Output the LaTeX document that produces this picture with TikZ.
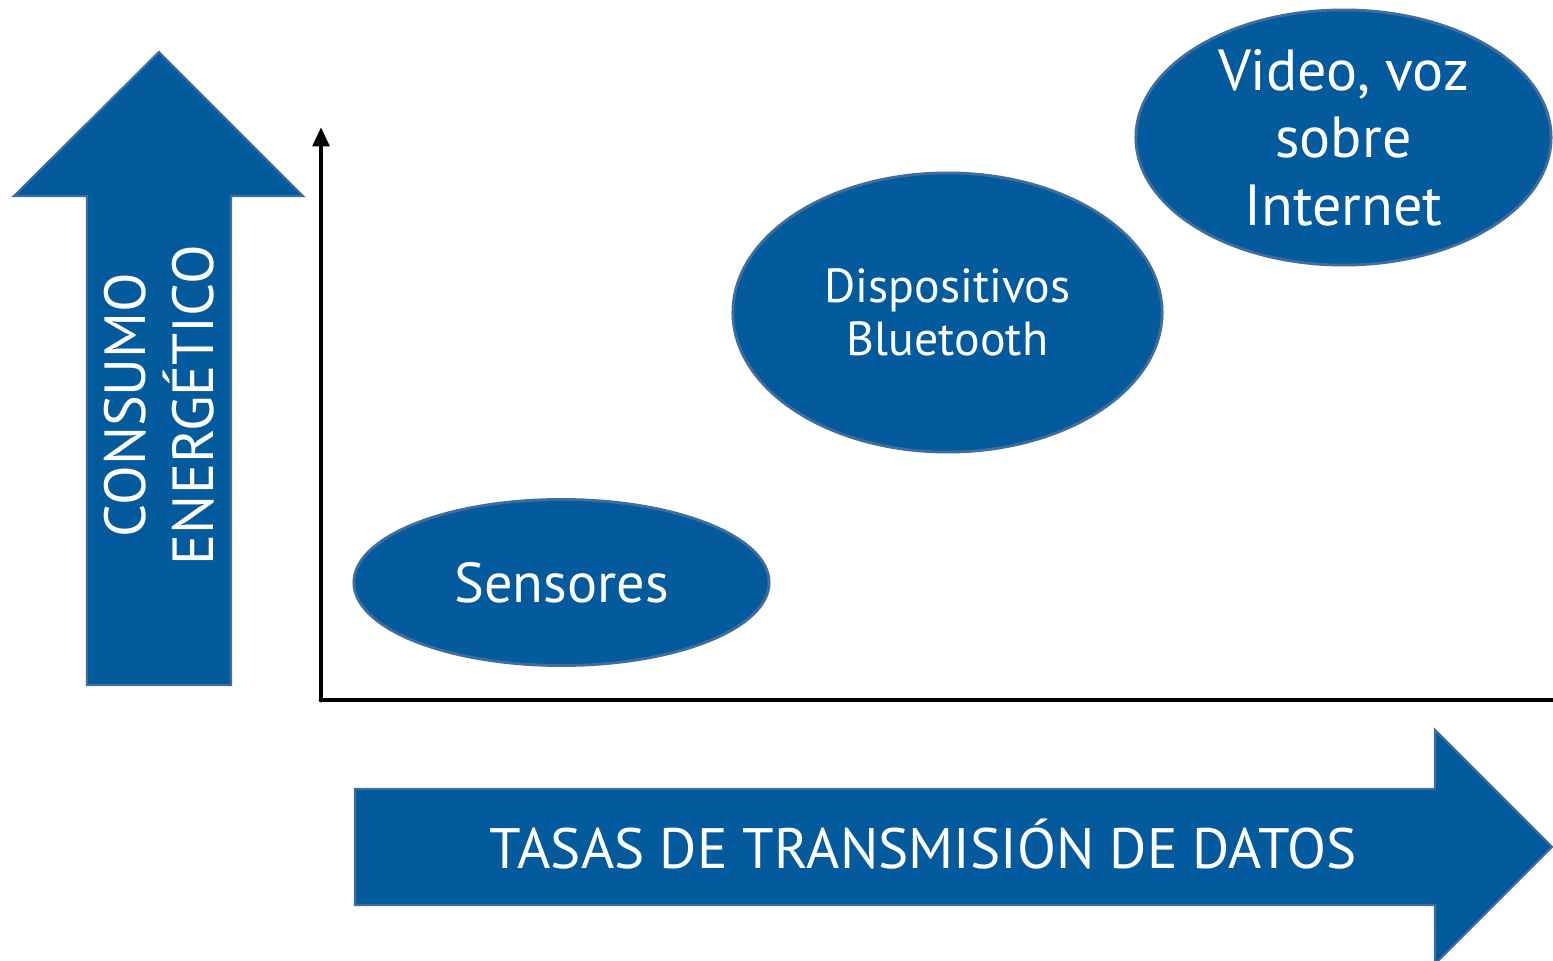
\documentclass[tikz,border=0pt]{standalone}
\usepackage{fontspec}
\setmainfont{PT Sans}
\usetikzlibrary{shapes.geometric,arrows.meta}
\definecolor{fillblue}{HTML}{035A9C}
\definecolor{edgeblue}{HTML}{3F6E9E}
\tikzset{
  blockarrow/.style={fill=fillblue, draw=edgeblue, line width=0.6pt},
  bubble/.style={ellipse, fill=fillblue, draw=edgeblue, line width=0.8pt,
    inner sep=0pt, text=white, align=center},
  axis/.style={line width=1.4pt, black},
  arrowlabel/.style={text=white, inner sep=0pt, align=center}
}
\begin{document}
\begin{tikzpicture}[x=0.01cm, y=-0.01cm]
\useasboundingbox (0,0) rectangle (1553,961);
\fill[white] (0,0) rectangle (1553,961);

% vertical block arrow: energy consumption
\draw[blockarrow] (159,52) -- (303,196) -- (231,196) -- (231,685) -- (87,685)
  -- (87,196) -- (14,196) -- cycle;
\node[arrowlabel, rotate=90, font=\fontsize{16.5}{19.5}\selectfont] (energy) at (159,405)
  {CONSUMO\\ENERG\'ETICO};

% horizontal block arrow: data rates
\draw[blockarrow] (355,789) -- (1435,789) -- (1435,730) -- (1552,847)
  -- (1435,964) -- (1435,905) -- (355,905) -- cycle;
\node[arrowlabel, font=\fontsize{16.2}{19}\selectfont] (rates) at (923,844)
  {TASAS DE TRANSMISI\'ON DE DATOS};

% axes
\coordinate (origin) at (321,700);
\coordinate (ytop) at (321,127);
\coordinate (xend) at (1553,700);
\draw[axis, -{Triangle[length=5.5pt,width=4.6pt]}, line cap=round] (origin) -- (ytop);
\draw[axis, line cap=round] (origin) -- (xend);

% application classes
\node[bubble, minimum width=4.15cm, minimum height=1.66cm,
  font=\fontsize{16}{19}\selectfont] (sensors) at (561.5,582.5) {Sensores};
\node[bubble, minimum width=4.29cm, minimum height=2.79cm,
  font=\fontsize{13.6}{15}\selectfont] (bt) at (947.5,312.5)
  {Dispositivos\\Bluetooth};
\node[bubble, minimum width=4.15cm, minimum height=2.55cm,
  font=\fontsize{16.5}{19.2}\selectfont] (voip) at (1343.5,137.5)
  {Video, voz\\sobre\\Internet};
\end{tikzpicture}
\end{document}
